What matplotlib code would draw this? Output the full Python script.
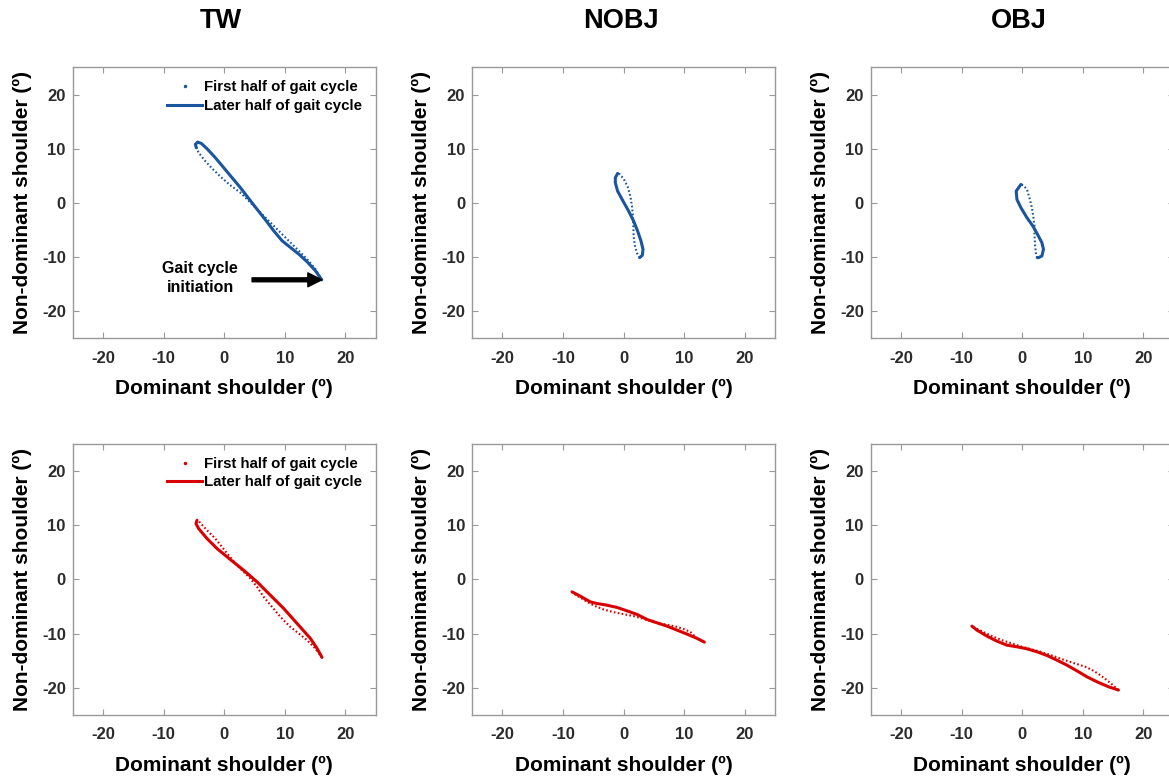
import matplotlib
matplotlib.use("Agg")
import matplotlib.pyplot as plt
from matplotlib.lines import Line2D

plt.rcParams['font.family'] = ['Liberation Sans', 'DejaVu Sans']
plt.rcParams['font.weight'] = 'bold'

# ---------------- data ----------------
conditions = ["TW", "NOBJ", "OBJ"]
tick_values = [-20, -10, 0, 10, 20]
legend_labels = ["First half of gait cycle", "Later half of gait cycle"]
x_label = "Dominant shoulder (º)"
y_label = "Non-dominant shoulder (º)"
annotation_text = "Gait cycle\ninitiation"
arrow_start = (4.6, -14.2)
arrow_end = (16.1, -14.2)

# Row 1 (blue)
tw_blue_first_x = [16.1, 15.05, 13.67, 12.30, 10.92, 9.27, 7.62, 5.97, 4.32, 2.67, 1.02, -0.63, -2.01, -3.27, -4.21, -4.59]
tw_blue_first_y = [-14.2, -12.2, -10.37, -8.83, -7.30, -5.46, -3.62, -1.78, 0.06, 1.90, 3.25, 4.85, 6.38, 7.91, 9.26, 10.18]
tw_blue_second_x = [-4.59, -4.76, -4.37, -3.77, -2.83, -1.46, -0.08, 1.29, 2.67, 4.05, 5.42, 6.80, 8.17, 9.55, 10.92, 12.30, 13.67, 15.05, 16.1]
tw_blue_second_y = [10.18, 10.80, 11.23, 10.98, 10.00, 8.34, 6.50, 4.66, 2.82, 0.80, -1.17, -3.13, -5.15, -6.99, -8.22, -9.45, -10.86, -12.52, -14.2]

nobj_blue_first_x = [2.67, 2.23, 1.90, 1.67, 1.62, 1.56, 1.40, 1.13, 0.68, 0.02, -0.64, -0.97]
nobj_blue_first_y = [-10.11, -9.31, -7.96, -6.12, -4.27, -2.43, -0.59, 1.25, 2.99, 4.46, 5.31, 5.44]
nobj_blue_second_x = [-0.97, -1.35, -1.35, -0.97, -0.08, 0.85, 1.67, 2.33, 2.89, 3.22, 3.11, 2.67]
nobj_blue_second_y = [5.44, 4.64, 3.72, 2.18, 0.34, -1.51, -3.35, -5.20, -7.04, -8.57, -9.68, -10.11]

obj_blue_first_x = [2.50, 2.31, 2.14, 2.03, 2.03, 1.86, 1.60, 1.20, 0.78, 0.21, -0.21]
obj_blue_first_y = [-10.11, -9.80, -7.96, -6.12, -4.27, -2.73, -0.89, 0.96, 2.49, 3.23, 3.41]
obj_blue_second_x = [-0.21, -0.99, -0.87, -0.21, 0.78, 1.76, 2.53, 3.25, 3.51, 3.25, 2.69, 2.50]
obj_blue_second_y = [3.41, 2.18, 0.65, -0.89, -2.73, -4.27, -5.81, -7.34, -8.57, -9.80, -10.11, -10.11]

# Row 2 (red)
tw_red_first_x = [16.14, 14.76, 13.67, 12.29, 10.91, 9.26, 7.89, 6.51, 5.42, 4.31, 3.20, 1.84, 0.73, -0.36, -1.47, -2.57, -3.50, -4.22, -4.49]
tw_red_first_y = [-14.40, -12.44, -11.21, -9.98, -8.76, -6.91, -5.07, -3.23, -1.38, 0.17, 1.38, 2.93, 4.46, 5.99, 7.54, 8.76, 9.86, 10.78, 10.91]
tw_red_second_x = [-4.49, -4.65, -4.22, -2.84, -1.19, 1.01, 3.20, 5.42, 7.61, 9.81, 12.02, 14.22, 15.32, 16.14]
tw_red_second_y = [10.91, 10.30, 9.38, 7.54, 5.70, 3.67, 1.70, -0.46, -2.91, -5.36, -8.13, -10.89, -12.74, -14.40]

nobj_red_first_x = [13.34, 11.85, 11.03, 9.93, 8.83, 7.73, 6.62, 4.97, 3.32, 1.67, 0.02, -1.63, -3.28, -4.65, -6.02, -7.13, -8.23, -8.50]
nobj_red_first_y = [-11.58, -10.60, -9.68, -9.18, -8.76, -8.50, -8.26, -7.89, -7.28, -6.78, -6.42, -6.05, -5.55, -4.94, -4.15, -3.35, -2.61, -2.30]
nobj_red_second_x = [-8.50, -7.13, -5.48, -4.37, -2.72, -1.07, 0.58, 2.23, 3.88, 5.53, 7.18, 8.83, 10.48, 12.13, 13.34]
nobj_red_second_y = [-2.30, -3.10, -4.15, -4.45, -4.76, -5.18, -5.81, -6.47, -7.39, -8.02, -8.63, -9.36, -10.10, -10.89, -11.58]

obj_red_first_x = [15.88, 14.95, 13.96, 12.86, 11.76, 10.66, 9.56, 8.19, 6.54, 4.89, 3.24, 1.59, -0.05, -1.70, -3.35, -5.00, -6.37, -7.47, -8.13, -8.30]
obj_red_first_y = [-20.43, -19.51, -18.59, -17.67, -16.87, -16.25, -15.82, -15.33, -14.72, -14.04, -13.43, -12.93, -12.44, -11.83, -11.21, -10.47, -9.74, -9.12, -8.76, -8.63]
obj_red_second_x = [-8.30, -7.47, -5.82, -4.18, -2.53, -0.88, 0.77, 2.42, 4.07, 5.71, 7.36, 9.01, 10.66, 12.31, 14.23, 15.88]
obj_red_second_y = [-8.63, -9.37, -10.47, -11.40, -12.14, -12.44, -12.81, -13.36, -14.04, -14.90, -15.82, -16.87, -17.97, -18.89, -19.82, -20.43]

BLUE = '#1a55a0'
RED = '#d80000'

rows = [
    (BLUE, [(tw_blue_first_x, tw_blue_first_y, tw_blue_second_x, tw_blue_second_y),
            (nobj_blue_first_x, nobj_blue_first_y, nobj_blue_second_x, nobj_blue_second_y),
            (obj_blue_first_x, obj_blue_first_y, obj_blue_second_x, obj_blue_second_y)]),
    (RED, [(tw_red_first_x, tw_red_first_y, tw_red_second_x, tw_red_second_y),
           (nobj_red_first_x, nobj_red_first_y, nobj_red_second_x, nobj_red_second_y),
           (obj_red_first_x, obj_red_first_y, obj_red_second_x, obj_red_second_y)]),
]

W, H = 1169, 776
fig = plt.figure(figsize=(W / 100, H / 100), dpi=100)

col_left_px = [72.7, 472.0, 870.7]
ax_w_px = 303.0
row_top_px = [67.5, 444.0]
ax_h_px = 270.8

SPINE = '#999999'
TICKC = '#2b2b2b'

for r, (color, panels) in enumerate(rows):
    for c, (fx, fy, sx, sy) in enumerate(panels):
        left = col_left_px[c] / W
        bottom = 1 - (row_top_px[r] + ax_h_px) / H
        ax = fig.add_axes([left, bottom, ax_w_px / W, ax_h_px / H])
        ax.plot(fx, fy, color=color, lw=1.5, ls=(0, (0.8, 1.1)))
        ax.plot(sx, sy, color=color, lw=2.2, solid_capstyle='round', solid_joinstyle='round')
        ax.set_xlim(-25, 25)
        ax.set_ylim(-25, 25)
        ax.set_xticks(tick_values)
        ax.set_yticks(tick_values)
        ax.set_xticklabels([str(v) for v in tick_values])
        ax.set_yticklabels([str(v) for v in tick_values])
        ax.tick_params(direction='in', length=4, width=0.8, colors=SPINE,
                       labelcolor=TICKC, labelsize=12, top=True, right=True)
        ax.tick_params(axis='x', pad=9)
        ax.tick_params(axis='y', pad=5)
        for lab in ax.get_xticklabels() + ax.get_yticklabels():
            lab.set_fontweight('bold')
        for sp in ax.spines.values():
            sp.set_color(SPINE)
            sp.set_linewidth(1.0)
        ax.set_xlabel(x_label, fontsize=15, fontweight='bold', color='black')
        ax.set_ylabel(y_label, fontsize=15, fontweight='bold', color='black')
        ax.xaxis.set_label_coords(0.5, -0.15)
        ax.yaxis.set_label_coords(-0.135, 0.5)

        if c == 0:
            handles = [Line2D([], [], color=color, marker='.', ls='none', markersize=3),
                       Line2D([], [], color=color, lw=2.2)]
            ax.legend(handles, legend_labels, loc='upper right', bbox_to_anchor=(0.975, 0.975),
                      borderaxespad=0, frameon=False, handlelength=2.3, handletextpad=0.15,
                      labelspacing=0.3, prop={'size': 10.8, 'weight': 'bold'}, numpoints=1)
        if r == 0 and c == 0:
            ax.annotate('', xy=arrow_end, xytext=arrow_start,
                        arrowprops=dict(facecolor='black', edgecolor='black', width=2.8,
                                        headwidth=10, headlength=10, shrink=0))
            ax.text(-3.94, -13.9, annotation_text, ha='center', va='center', fontsize=11.5,
                    fontweight='bold', color='black', linespacing=1.35)
        if r == 0:
            cx = (col_left_px[c] + ax_w_px / 2 - 3) / W
            fig.text(cx, 1 - 21 / H, conditions[c], ha='center', va='center',
                     fontsize=19.5, fontweight='bold', color='black')

fig.savefig('out.png', dpi=100)
